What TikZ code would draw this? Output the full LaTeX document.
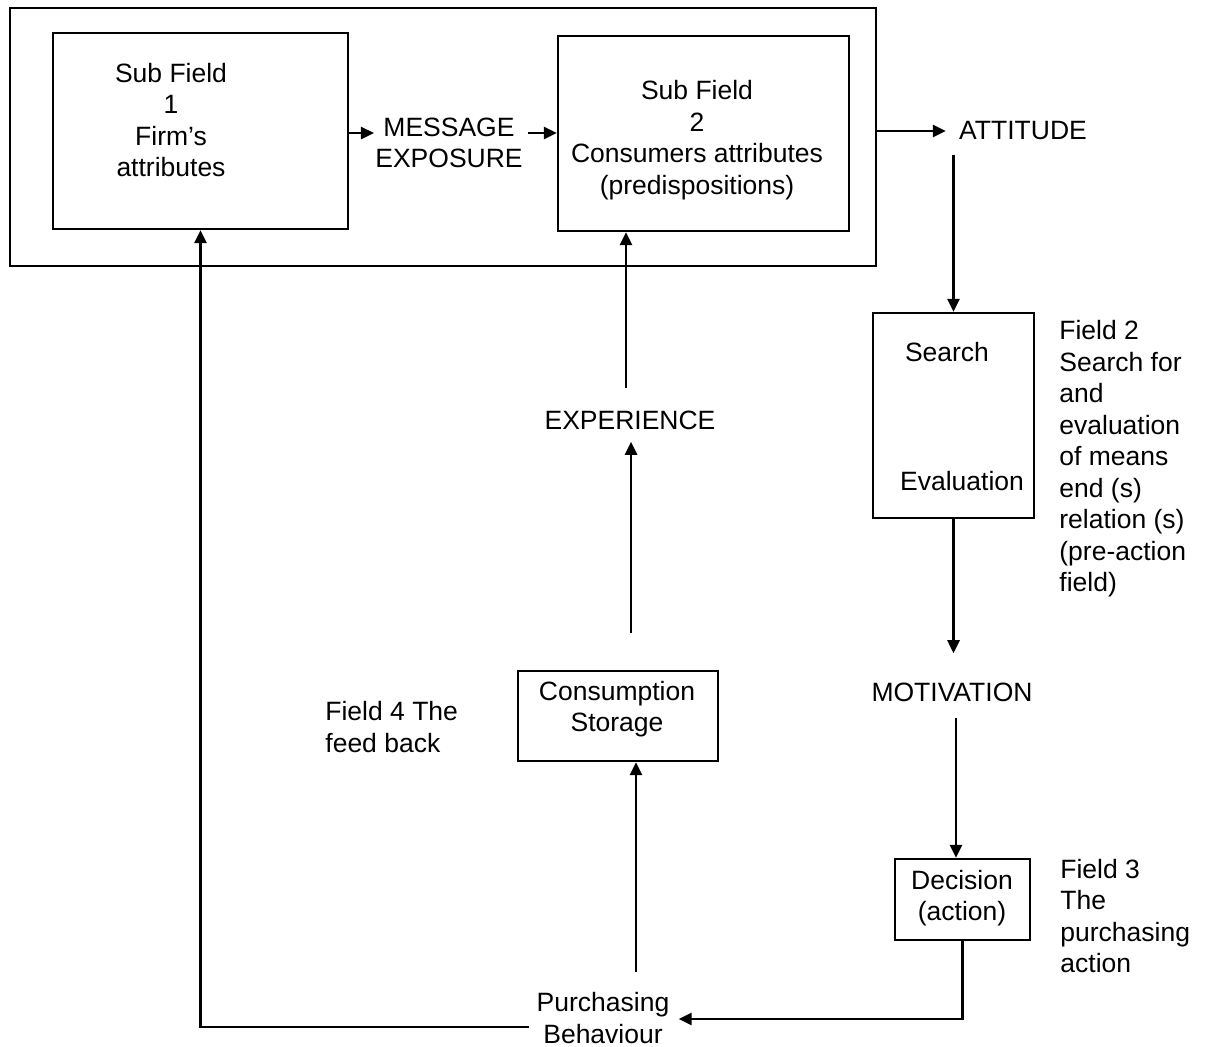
\documentclass[tikz,border=0pt]{standalone}
\usepackage{fontspec}
\setmainfont{Liberation Sans}
\usetikzlibrary{arrows.meta,fit,calc}
\begin{document}
\begin{tikzpicture}[x=0.5pt,y=-0.5pt,
  lbl/.style={font=\fontsize{13.25}{15.75}\selectfont, align=center, inner sep=0pt},
  lbll/.style={lbl, align=left, anchor=west},
  frame/.style={draw, line width=1.2pt, inner sep=0pt},
  conn/.style={line width=1.3pt, -{Triangle[length=6.5pt,width=6pt]}}]
\useasboundingbox (0,0) rectangle (1205,1046);

% boxes
\node[frame, fit={(10,8) (876,266)}] (outer) {};
\node[frame, fit={(53,33) (348,229)}] (sf1) {};
\node[frame, fit={(558,36) (849,231)}] (sf2) {};
\node[frame, fit={(873,313) (1034,518)}] (se) {};
\node[frame, fit={(895,859) (1030,940)}] (dec) {};
\node[frame, fit={(518,671) (718,761)}] (cs) {};

% texts
\node[lbl] (sf1t) at (171,120) {Sub Field\\1\\Firm's\\attributes};
\node[lbl] (msg) at (449,143) {MESSAGE\\EXPOSURE};
\node[lbl] (sf2t) at (697,140) {Sub Field\\2\\Consumers attributes\\(predispositions)};
\node[lbl] (att) at (1023,131) {ATTITUDE};
\node[lbl] (srch) at (947,352) {Search};
\node[lbl] (eval) at (962,481) {Evaluation};
\node[lbll] (f2) at (1059,459) {Field 2\\Search for\\and\\evaluation\\of means\\end (s)\\relation (s)\\(pre-action\\field)};
\node[lbl] (mot) at (952,692) {MOTIVATION};
\node[lbl] (dect) at (962,898) {Decision\\(action)};
\node[lbll] (f3) at (1060,916) {Field 3\\The\\purchasing\\action};
\node[lbl] (pb) at (603,1018) {Purchasing\\Behaviour};
\node[lbl] (cst) at (617,709) {Consumption\\Storage};
\node[lbl] (exp) at (630,420) {EXPERIENCE};
\node[lbll] (f4) at (325,727) {Field 4 The\\feed back};

% connectors
\coordinate (a1) at ($(sf1.east)+(0,2)$);
\draw[conn] (a1) -- ($(a1 -| msg.west)+(-1,0)$);
\coordinate (m0) at ($(msg.east)+(5,0)$);
\draw[conn] (m0 |- a1) -- (sf2.west |- a1);
\draw[conn] (outer.east |- att.west) -- ($(att.west)+(-13,0)$);
\draw[conn] ($(se.north |- att.south)+(0,14)$) -- (se.north);
\draw[conn] (se.south) -- ($(se.south |- mot.north)+(0,-29)$);
\coordinate (m1) at ($(mot.south)+(4,16)$);
\draw[conn] (m1) -- (m1 |- dec.north);
\draw[conn] (dec.south) |- ($(pb.east)+(9,1)$);
\draw[conn] ($(pb.west)+(-7,9)$) -| (sf1.south);
\coordinate (p1) at (636,972);
\draw[conn] (p1) -- (p1 |- cs.south);
\coordinate (e1) at (631,633);
\draw[conn] (e1) -- ($(e1 |- exp.south)+(0,12)$);
\coordinate (e2) at ($(exp.north)+(-4,-22)$);
\draw[conn] (e2) -- (e2 |- sf2.south);
\end{tikzpicture}
\end{document}
